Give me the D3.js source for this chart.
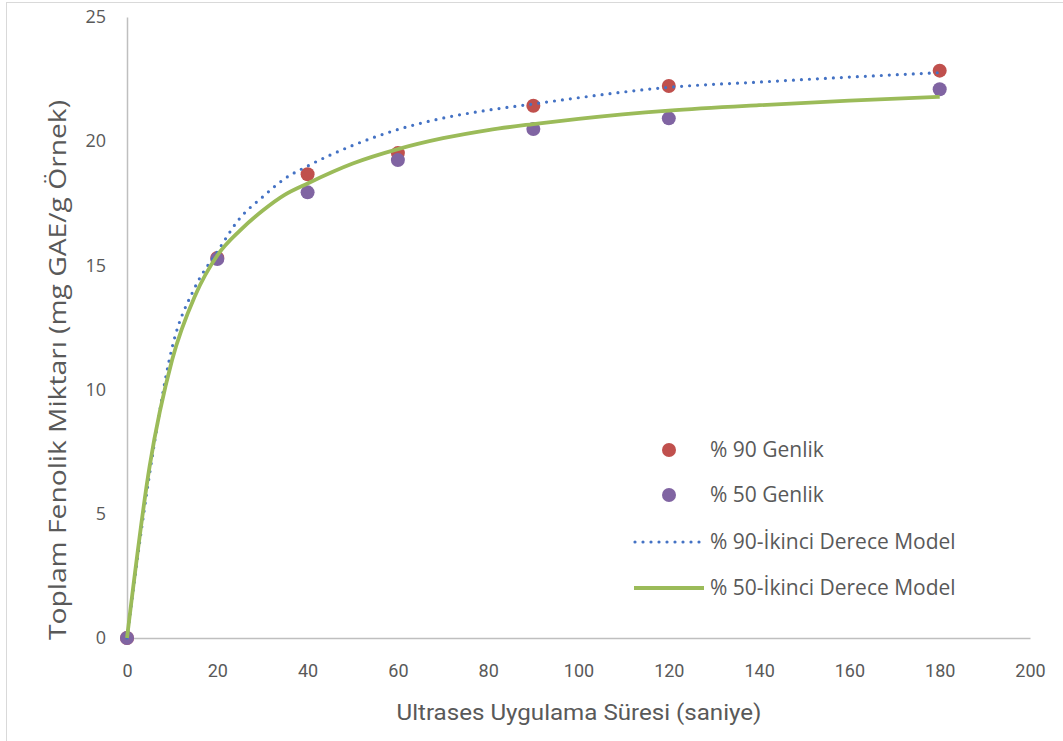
<!DOCTYPE html>
<html>
<head>
  <meta charset="utf-8">
  <title>Toplam Fenolik Miktarı</title>
  <style>
    body { margin: 0; background: #fff; }
    svg { display: block; }
  </style>
</head>
<body>
  <svg width="1063" height="741"></svg>
  <script src="https://d3js.org/d3.v7.min.js"></script>
  <script>
    // ölçülen değerler
    var times = [0, 20, 40, 60, 90, 120, 180];
    var genlik90 = [0, 15.3, 18.67, 19.52, 21.43, 22.22, 22.84];
    var genlik50 = [0, 15.26, 17.94, 19.24, 20.49, 20.92, 22.09];

    // model eğrileri
    var modelTimes = [0, 5, 10, 15, 20, 25, 30, 35, 40, 50, 60, 70, 80, 90, 100, 120, 140, 160, 180];
    var model90 = [0, 6.6, 11.7, 14.1, 15.55, 16.9, 17.75, 18.5, 19.0, 19.83, 20.47, 20.93, 21.25, 21.5, 21.75, 22.17, 22.38, 22.58, 22.76];
    var model50 = [0, 6.9, 11.2, 13.75, 15.4, 16.4, 17.2, 17.85, 18.3, 19.1, 19.68, 20.12, 20.45, 20.69, 20.9, 21.23, 21.45, 21.63, 21.79];

    var xTicks = [0, 20, 40, 60, 80, 100, 120, 140, 160, 180, 200];
    var yTicks = [0, 5, 10, 15, 20, 25];

    var legendLabels = ["% 90 Genlik", "% 50 Genlik", "% 90-İkinci Derece Model", "% 50-İkinci Derece Model"];

    var svg = d3.select("svg");
    var textColor = "#595959";

    // çerçeve
    svg.append("rect")
      .attr("x", 6.5).attr("y", 2.5)
      .attr("width", 1080).attr("height", 760)
      .attr("fill", "none").attr("stroke", "#d9d9d9");

    var x = d3.scaleLinear().domain([0, 200]).range([127, 1030]);
    var y = d3.scaleLinear().domain([0, 25]).range([638, 17]);

    // eksenler
    var xAxis = svg.append("g")
      .attr("transform", "translate(0,638)")
      .call(d3.axisBottom(x).tickValues(xTicks).tickSize(0).tickPadding(26));
    xAxis.select(".domain").attr("stroke", "#bfbfbf").attr("stroke-width", 1.5);
    xAxis.selectAll("text")
      .attr("fill", textColor)
      .style("font-family", "'Liberation Sans Narrow', Roboto, sans-serif")
      .style("font-size", "18px");

    var yAxis = svg.append("g")
      .attr("transform", "translate(127,0)")
      .call(d3.axisLeft(y).tickValues(yTicks).tickSize(0).tickPadding(21));
    yAxis.select(".domain").attr("stroke", "#bfbfbf").attr("stroke-width", 1.5);
    yAxis.selectAll("text")
      .attr("fill", textColor)
      .style("font-family", "'Open Sans', sans-serif")
      .style("font-size", "18px");

    // eksen başlıkları
    svg.append("text")
      .attr("x", 579).attr("y", 720)
      .attr("text-anchor", "middle")
      .attr("fill", textColor)
      .attr("textLength", 365)
      .attr("lengthAdjust", "spacingAndGlyphs")
      .style("font-family", "'Liberation Sans Narrow', Roboto, sans-serif")
      .style("font-size", "22px")
      .text("Ultrases Uygulama Süresi (saniye)");

    svg.append("text")
      .attr("transform", "translate(66,370) rotate(-90)")
      .attr("text-anchor", "middle")
      .attr("fill", textColor)
      .attr("textLength", 540)
      .attr("lengthAdjust", "spacingAndGlyphs")
      .style("font-family", "'Open Sans', sans-serif")
      .style("font-size", "23px")
      .text("Toplam Fenolik Miktarı (mg GAE/g Örnek)");

    // noktalar
    var pts90 = times.map(function (t, i) { return { t: t, v: genlik90[i] }; });
    var pts50 = times.map(function (t, i) { return { t: t, v: genlik50[i] }; });

    svg.append("g").selectAll("circle")
      .data(pts90).enter().append("circle")
      .attr("cx", function (d) { return x(d.t); })
      .attr("cy", function (d) { return y(d.v); })
      .attr("r", 7)
      .attr("fill", "#C0504D");

    svg.append("g").selectAll("circle")
      .data(pts50).enter().append("circle")
      .attr("cx", function (d) { return x(d.t); })
      .attr("cy", function (d) { return y(d.v); })
      .attr("r", 7)
      .attr("fill", "#8064A2");

    // model çizgileri
    var line = d3.line()
      .x(function (d) { return x(d[0]); })
      .y(function (d) { return y(d[1]); })
      .curve(d3.curveMonotoneX);

    svg.append("path")
      .datum(modelTimes.map(function (t, i) { return [t, model90[i]]; }))
      .attr("d", line)
      .attr("fill", "none")
      .attr("stroke", "#4472C4")
      .attr("stroke-width", 3.2)
      .attr("stroke-linecap", "round")
      .attr("stroke-dasharray", "0 8");

    svg.append("path")
      .datum(modelTimes.map(function (t, i) { return [t, model50[i]]; }))
      .attr("d", line)
      .attr("fill", "none")
      .attr("stroke", "#9BBB59")
      .attr("stroke-width", 3.8);

    // açıklama
    var legend = svg.append("g");
    var ly = [450, 495, 542, 588];

    legend.append("circle").attr("cx", 669).attr("cy", ly[0]).attr("r", 7).attr("fill", "#C0504D");
    legend.append("circle").attr("cx", 669).attr("cy", ly[1]).attr("r", 7).attr("fill", "#8064A2");
    legend.append("line")
      .attr("x1", 635).attr("x2", 701).attr("y1", ly[2]).attr("y2", ly[2])
      .attr("stroke", "#4472C4").attr("stroke-width", 3.2)
      .attr("stroke-linecap", "round").attr("stroke-dasharray", "0 8");
    legend.append("line")
      .attr("x1", 634).attr("x2", 704).attr("y1", ly[3]).attr("y2", ly[3])
      .attr("stroke", "#9BBB59").attr("stroke-width", 3.8);

    legend.selectAll("text.lbl")
      .data(legendLabels).enter().append("text")
      .attr("class", "lbl")
      .attr("x", 710)
      .attr("y", function (d, i) { return ly[i] + 7; })
      .attr("fill", textColor)
      .style("font-family", "'Open Sans', sans-serif")
      .style("font-size", "21px")
      .text(function (d) { return d; });
  </script>
</body>
</html>
